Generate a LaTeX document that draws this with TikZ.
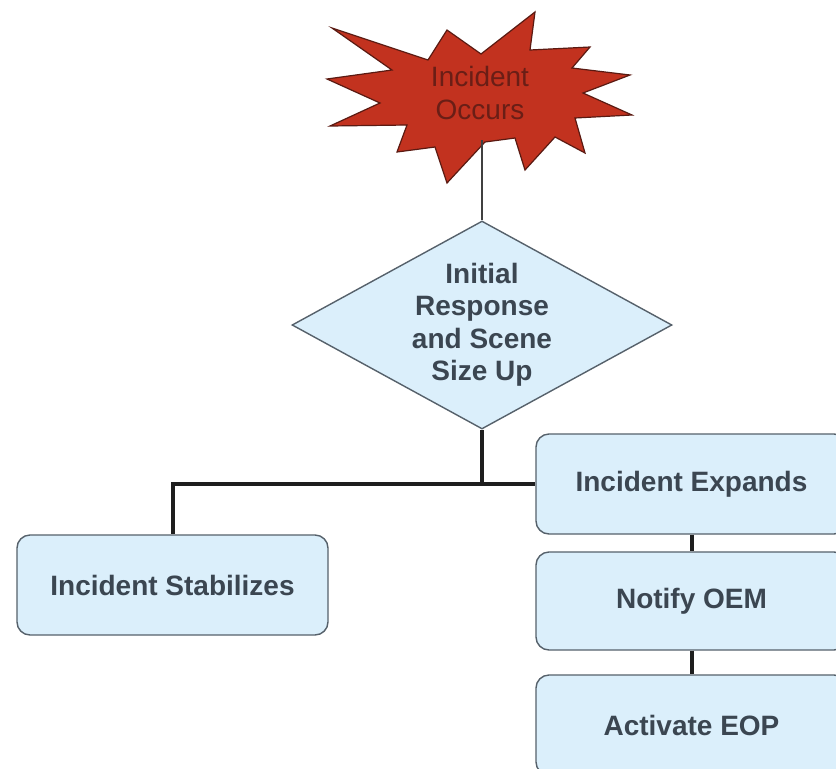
\documentclass[tikz,border=0pt]{standalone}
\usepackage{fontspec}
\setmainfont{Liberation Sans}
\usetikzlibrary{shapes.geometric}
\definecolor{starred}{HTML}{C2321F}
\definecolor{stardark}{HTML}{5A1A12}
\definecolor{startxt}{HTML}{6A1E16}
\definecolor{boxfill}{HTML}{DBEFFB}
\definecolor{boxline}{HTML}{56616B}
\definecolor{boxtxt}{HTML}{3B4651}
\definecolor{connline}{HTML}{1E1E1E}
\tikzset{
  stepbox/.style={draw=boxline, line width=1.4pt, fill=boxfill, rounded corners=13pt,
    minimum width=311pt, minimum height=100pt, inner sep=0pt, text=boxtxt,
    font=\fontsize{28}{32.5}\selectfont\bfseries},
  decbox/.style={shape=diamond, draw=boxline, line width=1.4pt, fill=boxfill,
    minimum width=380pt, minimum height=208pt, aspect=1.83, inner sep=0pt,
    text=boxtxt, align=center, font=\fontsize{28}{32.5}\selectfont\bfseries},
  startext/.style={text=startxt, align=center, inner sep=0pt,
    font=\fontsize{28}{33}\selectfont},
  thickconn/.style={draw=connline, line width=4pt},
  thinconn/.style={draw=connline!85, line width=2.4pt}
}
\begin{document}
\begin{tikzpicture}[x=1pt,y=-1pt]
\useasboundingbox (0,0) rectangle (836,769);
\clip (0,0) rectangle (836,769);
\fill[white] (0,0) rectangle (836,769);

\coordinate (starbot) at (482,140);
\coordinate (J) at (482,484);

% star
\filldraw[fill=starred, draw=stardark, line width=1.2pt, line join=miter]
  (332,28) -- (428,60) -- (447,30) -- (481,54) -- (535,12) -- (530,50)
  -- (590,47) -- (572,68) -- (630,75) -- (583,93) -- (632,115) -- (575,118)
  -- (585,153) -- (555,137) -- (525,170) -- (515,138) -- (485,142)
  -- (447,183) -- (435,147) -- (397,152) -- (407,125) -- (330,126)
  -- (380,103) -- (327,79) -- (392,70) -- cycle;
\node[startext] (star) at (480,93) {Incident\\Occurs};

% diamond
\node[decbox] (dia) at (482,325) {Initial\\Response\\and Scene\\Size Up};

% boxes
\node[stepbox] (stab) at (172.5,585) {Incident Stabilizes};
\node[stepbox] (exp) at (691.5,484) {Incident Expands};
\node[stepbox, minimum height=98pt] (oem) at (691.5,601) {Notify OEM};
\node[stepbox] (eop) at (691.5,725) {Activate EOP};

% connectors
\draw[thinconn] (starbot) -- (dia.north);
\draw[thickconn] (dia.south) -- (J);
\draw[thickconn] (J) -| (stab.north);
\draw[thickconn] (J) -- (exp.west);
\draw[thickconn] (exp.south) -- (oem.north);
\draw[thickconn] (oem.south) -- (eop.north);
\end{tikzpicture}
\end{document}
